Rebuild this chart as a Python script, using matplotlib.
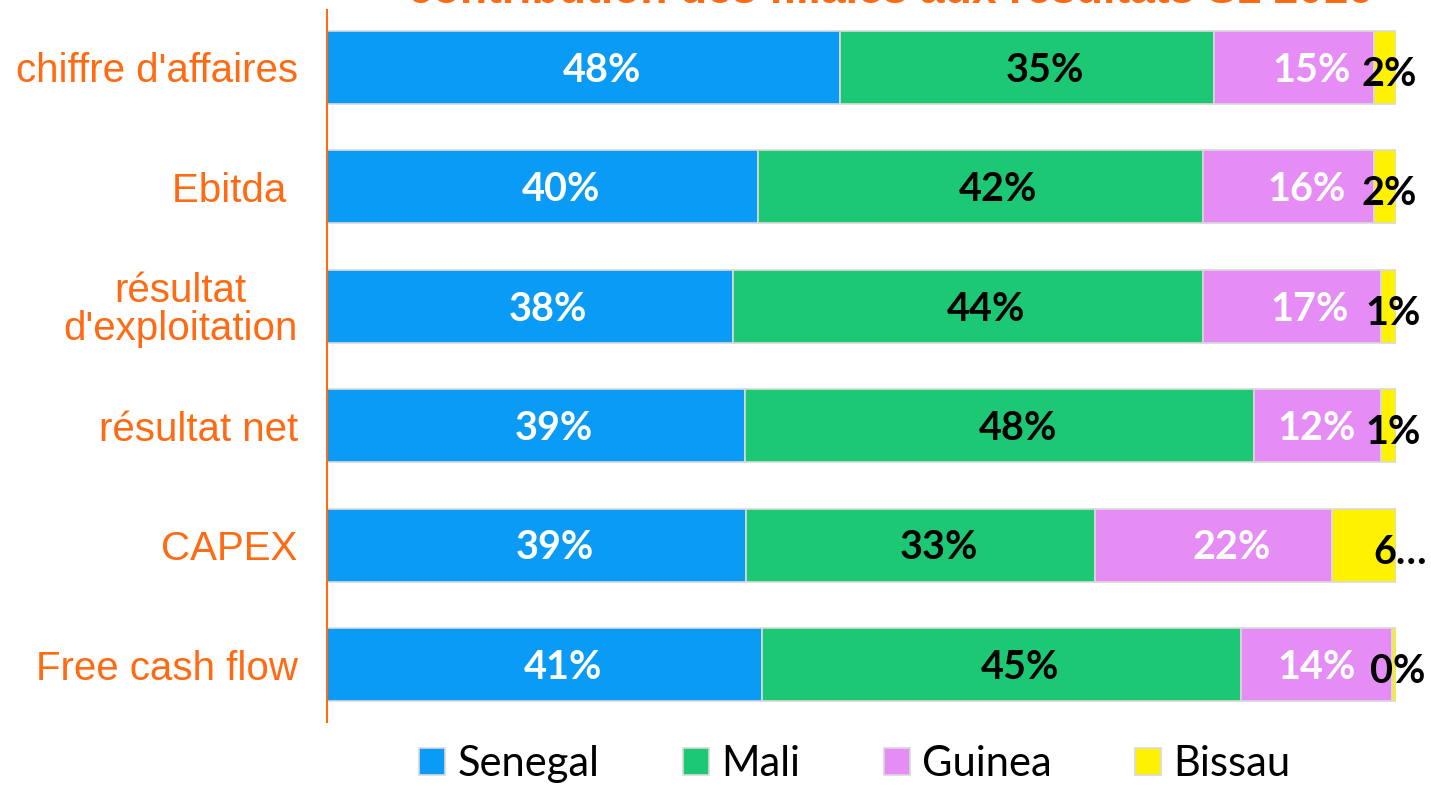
import matplotlib
matplotlib.use("Agg")
import matplotlib.pyplot as plt
import numpy as np

categories = ["chiffre d'affaires", "Ebitda ", "résultat\nd'exploitation", "résultat net", "CAPEX", "Free cash flow"]
senegal = [48.0, 40.3, 38.0, 39.1, 39.2, 40.7]
mali = [35.0, 41.6, 43.9, 47.6, 32.6, 44.8]
guinea = [14.9, 16.0, 16.7, 11.9, 22.2, 14.1]
bissau = [2.1, 2.1, 1.4, 1.4, 6.0, 0.4]
bissau_labels = ["2%", "2%", "1%", "1%", "6…", "0%"]
series_names = ["Senegal", "Mali", "Guinea", "Bissau"]
title = "contribution des filiales aux résultats S1 2016"

colors = ["#0A9BF7", "#1CC873", "#E58CF5", "#FFF200"]
text_colors = ["white", "black", "white", "black"]
orange = "#FF6A13"

fig = plt.figure(figsize=(14.31, 7.87), dpi=100)
ax = fig.add_axes([327/1431, 1 - 722/787, (1396-327)/1431, (722-10)/787])

y = np.arange(len(categories))
left = np.zeros(len(categories))
data = [senegal, mali, guinea, bissau]
for i, (vals, name) in enumerate(zip(data, series_names)):
    vals = np.array(vals)
    ax.barh(y, vals, left=left, height=0.61, color=colors[i], label=name,
            edgecolor="#D9D9D9", linewidth=1.2)
    for j, (l, v) in enumerate(zip(left, vals)):
        if i < 3:
            txt = f"{v:.0f}%"
            xc = l + v / 2 + 1.7
            if i == 2:
                xc = min(xc, 92.6)
            dx, dy = 0, -2
        else:
            txt = bissau_labels[j]
            xc = l + v / 2
            dx, dy = 3 if j != 4 else 26, -5
        ax.annotate(txt, (xc, y[j]), xytext=(dx, dy),
                    textcoords="offset points", ha="center", va="center",
                    fontsize=28.5, fontweight="bold", color=text_colors[i],
                    family="Lato", annotation_clip=False)
    left = left + vals

ax.set_xlim(0, 100)
ax.set_ylim(len(categories) - 0.52, -0.48)
ax.set_yticks(y)
ax.set_yticklabels(categories, fontsize=29, color=orange, family="Liberation Sans",
                   linespacing=1.0, multialignment="center")
ax.tick_params(axis="y", length=0, pad=21)
ax.set_xticks([])
for s in ["top", "right", "bottom"]:
    ax.spines[s].set_visible(False)
ax.spines["left"].set_color(orange)
ax.spines["left"].set_linewidth(1.5)

fig.legend(*ax.get_legend_handles_labels(), loc="lower center",
           bbox_to_anchor=(855/1431, -0.022), ncol=4, frameon=False,
           handlelength=0.62, handleheight=0.62, handletextpad=0.3,
           columnspacing=2.0, borderpad=0.0,
           prop={"family": "Lato", "size": 30})

fig.text(890/1431, 1 - 3/787, title, ha="center", va="baseline", fontsize=32,
         fontweight="bold", color=orange, family="Liberation Sans")

fig.savefig("out.png", dpi=100)
